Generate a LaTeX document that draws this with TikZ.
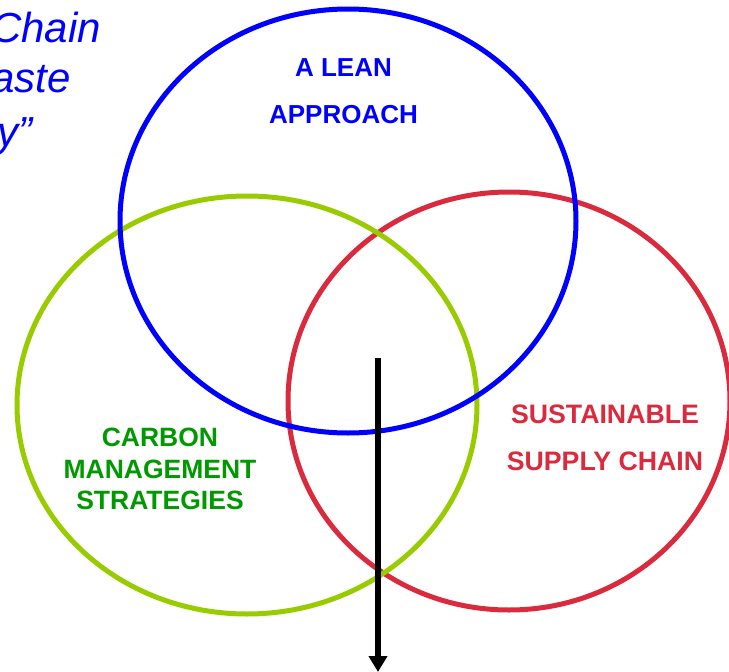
\documentclass[tikz,border=0pt]{standalone}
\usepackage{fontspec}
\setmainfont{Liberation Sans}
\usetikzlibrary{arrows.meta}
\definecolor{leanblue}{RGB}{0,0,255}
\definecolor{carbgreen}{RGB}{153,204,0}
\definecolor{carbtext}{RGB}{0,153,0}
\definecolor{supred}{RGB}{218,43,62}
\tikzset{
  ring/.style={line width=5pt},
  lbl/.style={anchor=base, inner sep=0pt},
  leanlbl/.style={lbl, text=leanblue, font=\fontsize{26}{30}\selectfont\bfseries},
  carblbl/.style={lbl, text=carbtext, font=\fontsize{26.5}{30}\selectfont\bfseries},
  suplbl/.style={lbl, text=supred, font=\fontsize{26.7}{30}\selectfont\bfseries},
  quote/.style={font=\fontsize{42}{50}\selectfont\itshape, text=leanblue, anchor=base east, inner sep=0pt},
  flow/.style={line width=6pt, -{Triangle[width=18pt,length=16pt]}}
}
\begin{document}
\begin{tikzpicture}[x=1pt,y=-1pt]
\useasboundingbox (0,0) rectangle (729,672);
\clip (0,0) rectangle (729,672);
% rings
\draw[ring, supred] (509,401) ellipse [x radius=221, y radius=209];
\draw[ring, carbgreen] (247,405) ellipse [x radius=230, y radius=209];
\draw[ring, leanblue] (348,221) ellipse [x radius=228, y radius=212];
% clipped quote text
\node[quote] (q1) at (101,42) {Chain};
\node[quote] (q2) at (71,92) {aste};
\node[quote] (q3) at (33,146) {y”};
% labels
\node[leanlbl] (lean1) at (343.5,76) {A LEAN};
\node[leanlbl] (lean2) at (343.5,123) {APPROACH};
\node[carblbl] (carb1) at (160,446) {CARBON};
\node[carblbl] (carb2) at (160,478) {MANAGEMENT};
\node[carblbl] (carb3) at (160,509) {STRATEGIES};
\node[suplbl] (sup1) at (605,423) {SUSTAINABLE};
\node[suplbl] (sup2) at (605,470) {SUPPLY CHAIN};
% arrow
\coordinate (astart) at (378,358);
\coordinate (aend) at (378,672);
\draw[flow] (astart) -- (aend);
\end{tikzpicture}
\end{document}
